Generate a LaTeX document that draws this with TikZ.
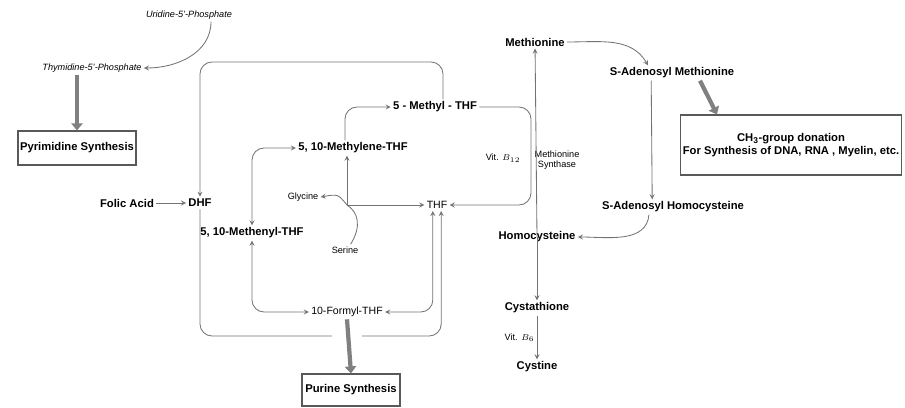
\documentclass[tikz,border=0pt]{standalone}
\usepackage{fontspec}
\setmainfont{Liberation Sans}
\usetikzlibrary{arrows.meta,calc}

\begin{document}
\begin{tikzpicture}[>=stealth, x=0.025cm, y=-0.025cm,
    every node/.style={font=\fontsize{8}{9.5}\selectfont\bfseries, inner sep=1.5pt},
    reg/.style={font=\fontsize{7.5}{9}\selectfont},
    sm/.style={font=\fontsize{6.5}{7.5}\selectfont},
    ital/.style={font=\fontsize{6.5}{7.5}\selectfont\itshape},
    ln/.style={draw=gray!90!black, line width=0.6pt, rounded corners=0.3cm},
    fat/.style={draw=gray, line width=3pt, -{Triangle[width=8pt,length=5pt]}},
    box/.style={draw=gray!70!black, line width=0.8pt}]
    \useasboundingbox (0,0) rectangle (905,407);
    % folate side
    \node (ump) at (189,15) [ital]{Uridine-5'-Phosphate};
    \node (tmp) at (92,68) [ital]{Thymidine-5'-Phosphate};
    \node (pyr) at (77,148) [box, minimum width=2.85cm, minimum height=0.85cm]{Pyrimidine Synthesis};
    \node (fol) at (127,203) {Folic Acid};
    \node (dhf) at (200,203) {DHF};
    \node (menyl) at (252,233) {5, 10-Methenyl-THF};
    \node (mlene) at (353,148) {5, 10-Methylene-THF};
    \node (mthf) at (435,107) {5 - Methyl - THF};
    \node (gly) at (303,197) [sm]{Glycine};
    \node (ser) at (345,250) [sm]{Serine};
    \node (thf) at (437,205) [reg]{THF};
    \node (fmy) at (347,312) [reg]{10-Formyl-THF};
    \node (pur) at (351,390) [box, minimum width=2.45cm, minimum height=0.8cm]{Purine Synthesis};
    \node (b12) at (503,158) [sm]{Vit. $B_{12}$};
    \node (ms) at (557,160) [sm, align=center]{Methionine\\Synthase};
    % methionine side
    \node (met) at (535,42) {Methionine};
    \node (hcy) at (537,237) {Homocysteine};
    \node (cth) at (537,308) {Cystathione};
    \node (cys) at (537,367) {Cystine};
    \node (sam) at (672,73) {S-Adenosyl Methionine};
    \node (sah) at (673,207) {S-Adenosyl Homocysteine};
    \node (don) at (791,145) [box, minimum width=5.45cm, minimum height=1.5cm, align=center]{CH\textsubscript{3}-group donation\\For Synthesis of DNA, RNA , Myelin, etc.};

    \coordinate (corn) at (200,62);
    \coordinate (gapl) at (332,336);
    \coordinate (gapr) at (362,336);
    \coordinate (gs) at (347,205);

    \draw[ln,->] ([xshift=0.55cm]ump.south) to[out=-90,in=0] (tmp.east);
    \draw[ln,->] ([xshift=0.2cm]mthf.north) |- (corn) -- (dhf.north);
    \draw[ln,->] (fol) -- (dhf);
    \draw[ln] (dhf.south) |- (gapl);
    \draw[ln,->] (gapr) -| ([xshift=3pt]thf.south);
    \draw[ln,<->] ([xshift=-3pt]thf.south) |- (fmy.east);
    \draw[ln,<->] (menyl.north) |- (mlene.west);
    \draw[ln,<->] (menyl.south) |- (fmy.west);
    \draw[ln,->] ([xshift=-0.2cm]mlene.north) |- (mthf.west);
    \draw[ln,sharp corners,->] ([xshift=4pt]ser.north) .. controls (362,226) and (358,212) .. (gs) .. controls (338,194) .. (gly.east);
    \draw[ln,->] (gs) -- (gs |- mlene.south);
    \draw[ln,->] (gs) -- (thf.west);
    \draw[ln,->] (mthf.east) -| ($(met.south |- thf.east)+(-4,0)$) -- (thf.east);

    \draw[ln,->] (hcy.center) -- (met);
    \draw[ln,->] (hcy.center) -- (cth);
    \draw[ln,->] (cth) -- node[left, sm]{Vit. $B_6$} (cys);
    \draw[ln,->] (met.east) to[out=0,in=120] ([xshift=-0.6cm]sam.north);
    \draw[ln,->] ([xshift=-0.52cm]sam.south) -- ([xshift=-0.52cm]sah.north);
    \draw[ln,->] ([xshift=-0.6cm]sah.south) to[out=-95,in=0] (hcy.east);

    \draw[fat] (tmp.south -| pyr.north) -- (pyr.north);
    \draw[fat] (fmy.south) -- (pur.north);
    \draw[fat] ([xshift=0.7cm]sam.south) -- ([xshift=-1.85cm]don.north);
\end{tikzpicture}
\end{document}
